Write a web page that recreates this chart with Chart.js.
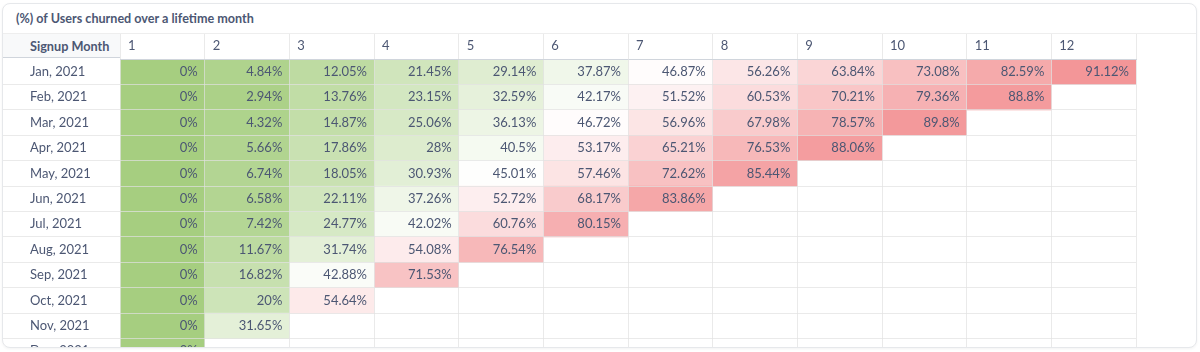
<!DOCTYPE html>
<html>
<head>
<meta charset="utf-8">
<script src="https://cdn.jsdelivr.net/npm/chart.js@4"></script>
<style>
    body { margin: 0; background: #fff; font-family: Lato, 'Noto Sans', sans-serif; }
    .card {
        position: absolute; left: 2px; top: 3px; width: 1193px; height: 343px;
        border: 1px solid #e6e8eb; border-radius: 8px; overflow: hidden; background: #fff;
        box-shadow: 0 1px 3px rgba(0,0,0,0.05);
    }
    .title {
        height: 29px; line-height: 29px; padding-left: 13px; border-bottom: 1px solid #eeeeee;
        font-weight: 700; font-size: 12.6px; color: #4c5773;
    }
    .corner {
        position: absolute; left: 0; top: 30px; width: 117px; height: 24px; line-height: 24px;
        padding-left: 27px; box-sizing: border-box;
        background: #f8f9fa; border-bottom: 1px solid #d0d5dc;
        font-weight: 700; font-size: 12.7px; color: #4c5773;
    }
    canvas { position: absolute; left: 0; top: 30px; }
</style>
</head>
<body>
<div class="card">
    <div class="title">(%) of Users churned over a lifetime month</div>
    <div class="corner">Signup Month</div>
    <canvas id="grafica" width="1192" height="330"></canvas>
</div>
<script>
var cohorts = ['Jan, 2021', 'Feb, 2021', 'Mar, 2021', 'Apr, 2021', 'May, 2021', 'Jun, 2021',
               'Jul, 2021', 'Aug, 2021', 'Sep, 2021', 'Oct, 2021', 'Nov, 2021', 'Dec, 2021'];
var periods = ['1', '2', '3', '4', '5', '6', '7', '8', '9', '10', '11', '12'];

var jan21 = [0, 4.84, 12.05, 21.45, 29.14, 37.87, 46.87, 56.26, 63.84, 73.08, 82.59, 91.12];
var feb21 = [0, 2.94, 13.76, 23.15, 32.59, 42.17, 51.52, 60.53, 70.21, 79.36, 88.8];
var mar21 = [0, 4.32, 14.87, 25.06, 36.13, 46.72, 56.96, 67.98, 78.57, 89.8];
var apr21 = [0, 5.66, 17.86, 28, 40.5, 53.17, 65.21, 76.53, 88.06];
var may21 = [0, 6.74, 18.05, 30.93, 45.01, 57.46, 72.62, 85.44];
var jun21 = [0, 6.58, 22.11, 37.26, 52.72, 68.17, 83.86];
var jul21 = [0, 7.42, 24.77, 42.02, 60.76, 80.15];
var aug21 = [0, 11.67, 31.74, 54.08, 76.54];
var sep21 = [0, 16.82, 42.88, 71.53];
var oct21 = [0, 20, 54.64];
var nov21 = [0, 31.65];
var dec21 = [0];

var churn = [jan21, feb21, mar21, apr21, may21, jun21, jul21, aug21, sep21, oct21, nov21, dec21];

var TEXT = '#4c5773';
var GRID = 'rgba(225,225,225,0.7)';
var FONT = { family: 'Lato', size: 13 };

var todos = [].concat.apply([], churn);
var lo = Math.min.apply(null, todos);
var hi = Math.max.apply(null, todos);
var verde = [166, 206, 128], blanco = [255, 255, 255], rojo = [243, 150, 152];

function mezcla(a, b, t) {
    return 'rgb(' + a.map(function(c, i) { return Math.round(c + (b[i] - c) * t); }).join(',') + ')';
}

function colorCelda(v) {
    var t = (v - lo) / (hi - lo);
    return t < 0.5 ? mezcla(verde, blanco, t / 0.5) : mezcla(blanco, rojo, (t - 0.5) / 0.5);
}

// texto del valor, alineado a la derecha de cada celda
var valoresPlugin = {
    id: 'valores',
    afterDatasetsDraw: function(chart) {
        var ctx = chart.ctx;
        ctx.save();
        ctx.font = '13px Lato';
        ctx.fillStyle = TEXT;
        ctx.textAlign = 'right';
        ctx.textBaseline = 'middle';
        chart.data.datasets.forEach(function(ds, k) {
            chart.getDatasetMeta(k).data.forEach(function(bar, r) {
                var v = churn[r][k];
                if (v === undefined) return;
                ctx.fillText(v + '%', Math.max(bar.x, bar.base) - 7, bar.y);
            });
        });
        ctx.restore();
    }
};

var datasets = periods.map(function(p, k) {
    return {
        label: p,
        data: churn.map(function(row) { return row[k] === undefined ? null : [k, k + 1]; }),
        backgroundColor: churn.map(function(row) { return row[k] === undefined ? 'transparent' : colorCelda(row[k]); }),
        borderWidth: 0,
        grouped: false,
        barPercentage: 1,
        categoryPercentage: 1
    };
});

new Chart(document.getElementById('grafica').getContext('2d'), {
    type: 'bar',
    plugins: [valoresPlugin],
    data: { labels: cohorts, datasets: datasets },
    options: {
        indexAxis: 'y',
        responsive: false,
        animation: false,
        devicePixelRatio: 1,
        layout: { padding: { left: 27, right: 59, top: 0, bottom: 0 } },
        plugins: { legend: { display: false }, tooltip: { enabled: false } },
        scales: {
            x: {
                type: 'linear',
                position: 'top',
                min: 0,
                max: periods.length,
                afterFit: function(s) { s.height = 25; s.paddingLeft = 0; s.paddingRight = 0; },
                grid: { color: GRID, tickLength: 25, z: 1 },
                border: { color: '#d0d5dc', z: 1 },
                ticks: {
                    stepSize: 1,
                    autoSkip: false,
                    maxRotation: 0,
                    align: 'start',
                    labelOffset: 8,
                    padding: -20,
                    font: FONT,
                    color: TEXT,
                    callback: function(v) { return v < periods.length ? periods[v] : ''; }
                }
            },
            y: {
                position: 'left',
                afterFit: function(s) { s.width = 90; s.paddingTop = 0; s.paddingBottom = 0; },
                grid: {
                    color: function(c) { return c.index === 0 ? 'transparent' : GRID; },
                    tickLength: 117,
                    z: 1
                },
                border: { display: false },
                ticks: { crossAlign: 'far', autoSkip: false, font: FONT, color: TEXT }
            }
        }
    }
});
</script>
</body>
</html>
